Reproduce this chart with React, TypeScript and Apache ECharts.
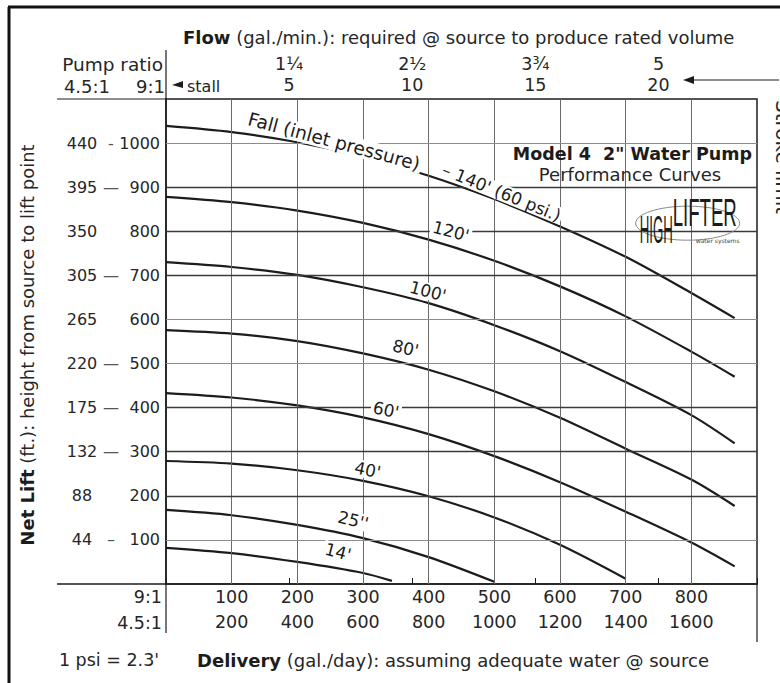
import React, { useEffect, useRef } from "react";
import * as echarts from "echarts";

// ---- axis tick labels ----
const deliveryTicks = [100, 200, 300, 400, 500, 600, 700, 800];
const deliveryRow9 = ["100", "200", "300", "400", "500", "600", "700", "800"];
const deliveryRow45 = ["200", "400", "600", "800", "1000", "1200", "1400", "1600"];

const flowTicks = [5, 10, 15, 20];
const flowRow9 = ["5", "10", "15", "20"];
const flowRow45 = ["1¼", "2½", "3¾", "5"];

const liftTicks = [100, 200, 300, 400, 500, 600, 700, 800, 900, 1000];
const liftRow9 = ["100", "200", "300", "400", "500", "600", "700", "800", "900", "1000"];
const liftRow45 = ["44", "88", "132", "175", "220", "265", "305", "350", "395", "440"];
const liftLeaders = ["–", "", "—", "—", "—", "", "—", "", "—", "-"];

// ---- performance curves: delivery (gal/day @ 9:1) vs net lift (ft @ 9:1) ----
const fall140Delivery = [0, 100, 200, 300, 400, 500, 600, 700, 800, 866];
const fall140Lift = [1039, 1025, 1002, 969, 926, 873, 811, 742, 660, 603];

const fall120Delivery = [0, 100, 200, 300, 400, 500, 600, 700, 800, 866];
const fall120Lift = [878, 866, 847, 819, 781, 733, 675, 607, 527, 470];

const fall100Delivery = [0, 100, 200, 300, 400, 500, 600, 700, 800, 866];
const fall100Lift = [730, 719, 701, 673, 637, 587, 528, 458, 383, 319];

const fall80Delivery = [0, 100, 200, 300, 400, 500, 600, 700, 800, 866];
const fall80Lift = [576, 568, 551, 523, 486, 437, 377, 307, 237, 177];

const fall60Delivery = [0, 100, 200, 300, 400, 500, 600, 700, 800, 866];
const fall60Lift = [433, 423, 405, 378, 340, 290, 231, 164, 94, 40];

const fall40Delivery = [0, 100, 200, 300, 400, 500, 600, 700];
const fall40Lift = [279, 273, 258, 234, 199, 151, 89, 12];

const fall25Delivery = [0, 100, 200, 300, 400, 500];
const fall25Lift = [168, 156, 134, 104, 61, 5];

const fall14Delivery = [0, 100, 200, 300, 344];
const fall14Lift = [82, 70, 50, 25, 7];

const curveNames = ["140'", "120'", "100'", "80'", "60'", "40'", "25''", "14'"];

// curve label texts, anchored in data coordinates
const labelTexts = ["Fall (inlet pressure)", "– 140' (60 psi.)", "120'", "100'", "80'", "60'", "40'", "25''", "14'"];
const labelDelivery = [256, 511, 434, 399, 365, 335, 307, 285, 262];
const labelLift = [1004, 888, 800, 664, 535, 395, 259, 145, 73];
const labelAngle = [15, 22, 15, 15, 13, 12, 12, 14, 15];

export default function App() {
  const ref = useRef<HTMLDivElement>(null);

  useEffect(() => {
    if (!ref.current) return;
    const chart = echarts.init(ref.current, null, { renderer: "svg" });
    const FONT = "DejaVu Sans";
    const INK = "#1c1c1c";
    const TXT = "#262626";

    const curves = [
      [fall140Delivery, fall140Lift],
      [fall120Delivery, fall120Lift],
      [fall100Delivery, fall100Lift],
      [fall80Delivery, fall80Lift],
      [fall60Delivery, fall60Lift],
      [fall40Delivery, fall40Lift],
      [fall25Delivery, fall25Lift],
      [fall14Delivery, fall14Lift],
    ];

    const curveSeries = curves.map((c, k) => ({
      type: "line",
      name: curveNames[k],
      xAxisIndex: 0,
      yAxisIndex: 0,
      data: c[0].map((x, i) => [x, c[1][i]]),
      smooth: 0.3,
      symbol: "none",
      showSymbol: false,
      silent: true,
      z: 3,
      lineStyle: { color: INK, width: 2.2 },
    }));

    const darkLift = [200, 300, 400, 700, 800, 900];
    const gridSeries = {
      type: "line",
      name: "grid",
      xAxisIndex: 0,
      yAxisIndex: 0,
      data: [],
      silent: true,
      z: 0,
      markLine: {
        silent: true,
        animation: false,
        symbol: ["none", "none"],
        label: { show: false },
        emphasis: { disabled: true },
        data: [
          ...deliveryTicks.map((v) => ({ xAxis: v, lineStyle: { color: "#6a6a6a", width: 1, type: "solid" } })),
          ...liftTicks.map((v) => ({
            yAxis: v,
            lineStyle: darkLift.indexOf(v) >= 0
              ? { color: "#3a3a3a", width: 1.4, type: "solid" }
              : { color: "#8c8c8c", width: 1, type: "solid" },
          })),
        ],
      },
    };

    chart.setOption({
      animation: false,
      textStyle: { fontFamily: FONT, color: TXT },
      grid: {
        left: 166,
        right: 23,
        top: 99,
        bottom: 99,
        show: true,
        borderColor: INK,
        borderWidth: 1.5,
        backgroundColor: "transparent",
      },
      xAxis: [
        {
          type: "value",
          position: "bottom",
          min: 0,
          max: 900,
          interval: 100,
          axisLine: { show: true, onZero: false, lineStyle: { color: INK, width: 1.5 } },
          axisTick: { show: false },
          splitLine: { show: false },
          axisLabel: {
            margin: 0,
            lineHeight: 25,
            fontSize: 17.5,
            fontFamily: FONT,
            color: TXT,
            formatter: (v: number) => {
              const i = deliveryTicks.indexOf(v);
              return i < 0 ? "" : `${deliveryRow9[i]}\n${deliveryRow45[i]}`;
            },
          },
        },
        {
          type: "value",
          position: "top",
          min: 0,
          max: 24,
          interval: 5,
          axisLine: { show: false },
          axisTick: { show: true, length: 6, lineStyle: { color: INK } },
          splitLine: { show: false },
          axisLabel: {
            margin: 4,
            lineHeight: 21,
            fontSize: 17.5,
            fontFamily: FONT,
            color: TXT,
            formatter: (v: number) => {
              const i = flowTicks.indexOf(v);
              return i < 0 ? "" : `${flowRow45[i]}\n${flowRow9[i]}`;
            },
          },
        },
      ],
      yAxis: [
        {
          type: "value",
          min: 0,
          max: 1100,
          interval: 100,
          axisLine: { show: true, onZero: false, lineStyle: { color: INK, width: 1.5 } },
          axisTick: { show: false },
          splitLine: { show: false },
          axisLabel: {
            margin: 6,
            formatter: (v: number) => {
              const i = liftTicks.indexOf(v);
              if (i < 0) return "";
              return `{l|${liftRow45[i]}}{d|${liftLeaders[i]}}{r|${liftRow9[i]}}`;
            },
            rich: {
              l: { width: 40, align: "right", fontSize: 16, fontFamily: FONT, color: TXT },
              d: { width: 18, align: "center", fontSize: 16, fontFamily: FONT, color: "#555" },
              r: { width: 40, align: "right", fontSize: 16, fontFamily: FONT, color: TXT },
            },
          },
        },
      ],
      series: [gridSeries, ...curveSeries],
    });

    const P = (x: number, y: number) => chart.convertToPixel({ gridIndex: 0 }, [x, y]) as number[];

    const txt = (o: any) => ({
      type: "text",
      z: 10,
      ...o,
      style: {
        fontFamily: FONT,
        fill: TXT,
        fontSize: 18,
        ...o.style,
        textAlign: o.style.align || "left",
        textVerticalAlign: o.style.verticalAlign || "middle",
        verticalAlign: o.style.verticalAlign || "middle",
      },
    });
    const line = (x1: number, y1: number, x2: number, y2: number, w = 1, c = INK) => ({
      type: "line",
      z: 9,
      shape: { x1, y1, x2, y2 },
      style: { stroke: c, lineWidth: w },
    });

    const [tx0, ty0] = P(500, 1000);
    const [tx1, ty1] = P(900, 900);
    const [lx0, ly0] = P(700, 900);
    const [lx1, ly1] = P(900, 700);
    const [ax0, ay0] = P(0, 0);
    const [ax1, ay1] = P(900, 1100);

    const graphics: any[] = [
      // white panels for title and logo
      { type: "rect", z: 1, shape: { x: tx0 + 1.5, y: ty0 + 1.5, width: tx1 - tx0 - 3, height: ty1 - ty0 - 3 }, style: { fill: "#fff" } },
      { type: "rect", z: 1, shape: { x: lx0 + 1.5, y: ly0 + 1.5, width: lx1 - lx0 - 3, height: ly1 - ly0 - 3 }, style: { fill: "#fff" } },
      // frame
      line(8, 7, 780, 7, 3, "#111"),
      line(9, 7, 9, 683, 3, "#111"),
      // axis extensions
      line(ax0, 50, ax0, ay1, 1.2),
      line(ax0, ay0, ax0, 633, 1.2),
      line(57, ay1, ax0, ay1, 1.2),
      line(57, ay0, ax0, ay0, 1.5),
      line(ax1, ay0, ax1, 642, 1.2),
      // stroke limit arrow
      { type: "polygon", z: 9, shape: { points: [[683, 80], [694, 76], [694, 84]] }, style: { fill: INK } },
      line(694, 80, 779, 80, 1),
      // stall arrow
      { type: "polygon", z: 9, shape: { points: [[172, 85], [183, 81], [183, 88]] }, style: { fill: INK } },
      txt({ x: 187, y: 86, style: { text: "stall", fontSize: 16 } }),
      // titles
      txt({
        x: 183,
        y: 37,
        style: {
          text: "{b|Flow} (gal./min.): required @ source to produce rated volume",
          fontSize: 18,
          rich: { b: { fontWeight: "bold", fontSize: 18, fontFamily: FONT, fill: INK } },
        },
      }),
      txt({ x: 163, y: 64, style: { text: "Pump ratio", align: "right", fontSize: 18.5 } }),
      txt({ x: 87, y: 86, style: { text: "4.5:1", align: "center", fontSize: 18 } }),
      txt({ x: 165, y: 86, style: { text: "9:1", align: "right", fontSize: 18 } }),
      txt({ x: 162, y: 597, style: { text: "9:1", align: "right", fontSize: 17.5 } }),
      txt({ x: 162, y: 623, style: { text: "4.5:1", align: "right", fontSize: 17.5 } }),
      txt({ x: 109, y: 660, style: { text: "1 psi = 2.3'", align: "center", fontSize: 17.5 } }),
      txt({
        x: 197,
        y: 660,
        style: {
          text: "{b|Delivery} (gal./day): assuming adequate water @ source",
          fontSize: 18,
          rich: { b: { fontWeight: "bold", fontSize: 18, fontFamily: FONT, fill: INK } },
        },
      }),
      txt({
        x: 27,
        y: 345,
        rotation: Math.PI / 2,
        style: {
          text: "{b|Net Lift} (ft.): height from source to lift point",
          align: "center",
          fontSize: 18,
          rich: { b: { fontWeight: "bold", fontSize: 18, fontFamily: FONT, fill: INK } },
        },
      }),
      txt({
        x: 773,
        y: 100,
        rotation: -Math.PI / 2,
        style: { text: "Stroke limit", fontSize: 20, verticalAlign: "bottom" },
      }),
      // title box
      txt({ x: tx1 - 5, y: ty0 + 11, style: { text: 'Model 4  2" Water Pump', align: "right", fontSize: 17.5, fontWeight: "bold", fill: INK } }),
      txt({ x: 630, y: ty0 + 31, style: { text: "Performance Curves", align: "center", fontSize: 18 } }),
      // logo
      txt({
        x: lx0 + 14,
        y: ly0 + 42,
        scaleX: 0.35,
        style: { text: "HIGH", fontFamily: "Liberation Sans", fontSize: 38, fill: INK },
      }),
      txt({
        x: lx0 + 47,
        y: ly0 + 25,
        scaleX: 0.49,
        style: { text: "LIFTER", fontFamily: "Liberation Sans", fontSize: 38, fill: INK },
      }),
      txt({ x: lx0 + 92, y: ly0 + 53, style: { text: "water systems", align: "center", fontSize: 6, fill: "#444" } }),
      {
        type: "ellipse",
        z: 9,
        shape: { cx: lx0 + 62, cy: ly0 + 36, rx: 52, ry: 17 },
        style: { fill: "none", stroke: "#888", lineWidth: 1 },
      },
    ];

    labelTexts.forEach((t, i) => {
      const [px, py] = P(labelDelivery[i], labelLift[i]);
      graphics.push(
        txt({
          x: px,
          y: py,
          rotation: (-labelAngle[i] * Math.PI) / 180,
          style: {
            text: t,
            align: "center",
            fontSize: i === 0 ? 18.5 : 17,
            fill: INK,
            backgroundColor: "#fff",
            padding: [0, 2],
          },
        })
      );
    });

    chart.setOption({ graphic: graphics });

    return () => chart.dispose();
  }, []);

  return (
    <div
      ref={ref}
      style={{ position: "fixed", left: 0, top: 0, width: 780, height: 683, background: "#fff" }}
    />
  );
}
